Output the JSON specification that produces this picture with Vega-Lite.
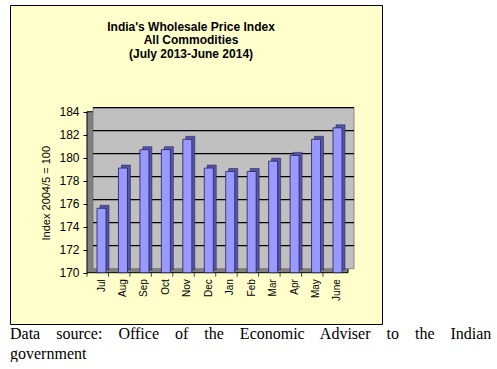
{
  "$schema": "https://vega.github.io/schema/vega-lite/v6.json",
  "background": "white",
  "padding": {"left": 9, "top": 4, "right": 0, "bottom": 0},
  "title": {
    "text": ["Data\u00a0\u00a0\u00a0 source:\u00a0\u00a0\u00a0 Office\u00a0\u00a0\u00a0 of\u00a0\u00a0\u00a0 the\u00a0\u00a0\u00a0 Economic\u00a0\u00a0\u00a0 Adviser\u00a0\u00a0\u00a0 to\u00a0\u00a0\u00a0 the\u00a0\u00a0\u00a0 Indian", "government"],
    "orient": "bottom",
    "anchor": "start",
    "frame": "group",
    "font": "Liberation Serif",
    "fontSize": 16,
    "fontWeight": "normal",
    "color": "black",
    "lineHeight": 20,
    "offset": 1
  },
  "vconcat": [
    {
      "width": 372,
      "height": 319,
      "view": {"fill": "#FFFFCC", "stroke": "#000000", "strokeWidth": 1},
      "layer": [
        {
          "data": {"values": [{"part": "floor"}]},
          "mark": {"type": "rect", "fill": "#808080", "stroke": "#000000", "strokeWidth": 1},
          "encoding": {
            "x": {"datum": "Jul", "bandPosition": -1.111},
            "x2": {"datum": "June", "bandPosition": 1.669},
            "y": {"datum": 170, "type": "quantitative"},
            "y2": {"datum": 184}
          }
        },
        {
          "data": {"values": [{"part": "wall"}]},
          "mark": {"type": "rect", "fill": "#C0C0C0", "stroke": "#707070", "strokeWidth": 0.8, "xOffset": 6, "x2Offset": 6, "yOffset": -4, "y2Offset": -4},
          "encoding": {
            "x": {"datum": "Jul", "bandPosition": -1.111},
            "x2": {"datum": "June", "bandPosition": 1.669},
            "y": {"datum": 170, "type": "quantitative"},
            "y2": {"datum": 184}
          }
        },
        {
          "data": {"values": [{"g": 172}, {"g": 174}, {"g": 176}, {"g": 178}, {"g": 180}, {"g": 182}, {"g": 184}]},
          "mark": {"type": "rule", "stroke": "#000000", "strokeWidth": 1.2, "xOffset": 6, "x2Offset": 6, "yOffset": -4},
          "encoding": {
            "x": {"datum": "Jul", "bandPosition": -1.111},
            "x2": {"datum": "June", "bandPosition": 1.669},
            "y": {"field": "g", "type": "quantitative"}
          }
        },
        {
          "data": {"values": [{"part": "title"}]},
          "mark": {
            "type": "text",
            "text": ["India's  Wholesale Price Index", "All Commodities", "(July 2013-June 2014)"],
            "font": "Liberation Sans",
            "fontSize": 12,
            "fontWeight": "bold",
            "color": "#000000",
            "lineHeight": 13.5,
            "align": "center",
            "baseline": "top"
          },
          "encoding": {
            "x": {"datum": "Nov", "bandPosition": 0.91},
            "y": {"datum": 191.8, "type": "quantitative"}
          }
        },
        {
          "data": {"name": "wpi", "values": [
            {"month": "Jul", "wpi": 175.6},
            {"month": "Aug", "wpi": 179.1},
            {"month": "Sep", "wpi": 180.7},
            {"month": "Oct", "wpi": 180.7},
            {"month": "Nov", "wpi": 181.6},
            {"month": "Dec", "wpi": 179.1},
            {"month": "Jan", "wpi": 178.8},
            {"month": "Feb", "wpi": 178.8},
            {"month": "Mar", "wpi": 179.7},
            {"month": "Apr", "wpi": 180.2},
            {"month": "May", "wpi": 181.6},
            {"month": "June", "wpi": 182.6}
          ]},
          "layer": [
            {
              "mark": {"type": "bar", "fill": "#5555AA", "stroke": "#1A1A4D", "strokeWidth": 0.5, "xOffset": 3, "yOffset": -3, "y2Offset": -3},
              "encoding": {
                "x": {
                  "field": "month",
                  "type": "nominal",
                  "scale": {
                    "domain": ["Jul", "Aug", "Sep", "Oct", "Nov", "Dec", "Jan", "Feb", "Mar", "Apr", "May", "June"],
                    "range": [87, 332],
                    "paddingInner": 0.58,
                    "paddingOuter": 0,
                    "align": 0
                  },
                  "axis": {
                    "orient": "bottom",
                    "offset": -51.3,
                    "zindex": 1,
                    "domain": false,
                    "ticks": false,
                    "grid": false,
                    "labelAngle": -90,
                    "labelPadding": 6,
                    "labelFont": "Liberation Sans",
                    "labelFontSize": 10,
                    "labelColor": "#000000",
                    "title": null
                  }
                },
                "y": {
                  "field": "wpi",
                  "type": "quantitative",
                  "scale": {"domain": [165.539, 193.278], "nice": false, "zero": false},
                  "axis": {
                    "values": [170, 172, 174, 176, 178, 180, 182, 184],
                    "offset": -77,
                    "zindex": 1,
                    "domain": false,
                    "grid": false,
                    "tickSize": 4,
                    "tickColor": "#000000",
                    "labelPadding": 4,
                    "labelFont": "Liberation Sans",
                    "labelFontSize": 12,
                    "labelColor": "#000000",
                    "title": "Index 2004/5 = 100",
                    "titleFont": "Liberation Sans",
                    "titleFontSize": 11,
                    "titleFontWeight": "normal",
                    "titleColor": "#000000",
                    "titleAngle": -90,
                    "titleAlign": "center",
                    "titleBaseline": "middle",
                    "titleX": -41,
                    "titleY": 187.7
                  }
                },
                "y2": {"datum": 170}
              }
            },
            {
              "mark": {"type": "bar", "fill": "#9999FF", "stroke": "#222255", "strokeWidth": 0.8},
              "encoding": {
                "x": {"field": "month", "type": "nominal"},
                "y": {"field": "wpi", "type": "quantitative"},
                "y2": {"datum": 170}
              }
            },
            {
              "mark": {"type": "tick", "orient": "vertical", "color": "#000000", "size": 4, "thickness": 1, "yOffset": 2},
              "encoding": {
                "x": {"field": "month", "type": "nominal", "bandPosition": -1.111},
                "y": {"datum": 170, "type": "quantitative"}
              }
            }
          ]
        }
      ]
    }
  ],
  "config": {"view": {"stroke": null}}
}
